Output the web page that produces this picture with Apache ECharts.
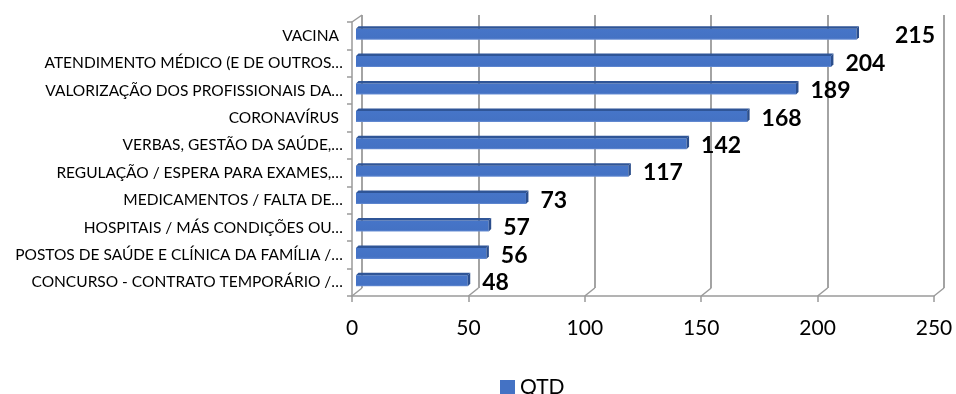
<!DOCTYPE html>
<html>
<head>
<meta charset="utf-8">
<script src="https://cdn.jsdelivr.net/npm/echarts@6/dist/echarts.min.js"></script>
<style>
  html, body { margin: 0; padding: 0; background: #fff; }
  #chart { width: 956px; height: 394px; }
</style>
</head>
<body>
<div id="chart"></div>
<script>
// Categories, top to bottom
const categories = [
  'VACINA ',
  'ATENDIMENTO MÉDICO (E DE OUTROS…',
  'VALORIZAÇÃO DOS PROFISSIONAIS DA…',
  'CORONAVÍRUS ',
  'VERBAS, GESTÃO DA SAÚDE,…',
  'REGULAÇÃO / ESPERA PARA EXAMES,…',
  'MEDICAMENTOS / FALTA DE…',
  'HOSPITAIS / MÁS CONDIÇÕES OU…',
  'POSTOS DE SAÚDE E CLÍNICA DA FAMÍLIA /…',
  'CONCURSO - CONTRATO TEMPORÁRIO /…'
];
const qtd = [215, 204, 189, 168, 142, 117, 73, 57, 56, 48];
const seriesName = 'QTD';
const xTicks = [0, 50, 100, 150, 200, 250];

const FONT = 'Lato';
const GRID_COLOR = '#9a9a9a';
const DEPTH_X = 10, DEPTH_Y = 8;   // wall/floor depth offset

const chart = echarts.init(document.getElementById('chart'), null, { renderer: 'canvas' });

const option = {
  animation: false,
  textStyle: { fontFamily: FONT },
  grid: [
    // front plane: axis labels, left wall front edge
    { left: 352, right: 22, top: 22, bottom: 98 },
    // back wall: vertical gridlines
    { left: 362, right: 12, top: 15, bottom: 106 },
    // bars plane
    { left: 356, right: 18, top: 19.3, bottom: 100.7 }
  ],
  xAxis: [
    {
      gridIndex: 0, type: 'value', min: 0, max: 250, interval: 50,
      axisLine: { show: true, lineStyle: { color: GRID_COLOR, width: 1.5 } },
      axisTick: { show: true, length: 6, lineStyle: { color: GRID_COLOR, width: 1.5 } },
      axisLabel: { fontSize: 21, color: '#000', margin: 22, fontFamily: FONT },
      splitLine: { show: false }
    },
    {
      gridIndex: 1, type: 'value', min: 0, max: 250, interval: 50,
      axisLine: { show: false }, axisTick: { show: false }, axisLabel: { show: false },
      splitLine: { show: true, lineStyle: { color: GRID_COLOR, width: 1.8 } }
    },
    {
      gridIndex: 2, type: 'value', min: 0, max: 250, interval: 50, show: false
    }
  ],
  yAxis: [
    {
      gridIndex: 0, type: 'category', data: categories, inverse: true,
      axisLine: { show: true, lineStyle: { color: GRID_COLOR, width: 1.5 } },
      axisTick: { show: true, length: 5, lineStyle: { color: GRID_COLOR, width: 1.5 } },
      axisLabel: { fontSize: 15.5, color: '#000', margin: 9, fontFamily: FONT },
      splitLine: { show: false }
    },
    {
      gridIndex: 1, type: 'category', data: categories, inverse: true, show: false
    },
    {
      gridIndex: 2, type: 'category', data: categories, inverse: true, show: false
    }
  ],
  legend: {
    data: [{ name: seriesName, icon: 'rect', itemStyle: { color: '#4472C4' } }],
    left: 500, top: 377, padding: 0,
    itemWidth: 15, itemHeight: 15, itemGap: 10,
    textStyle: { fontSize: 21, color: '#000', fontFamily: FONT }
  },
  series: [
    {
      // floor and wall depth edges, one per value tick plus the top-left wall edge
      type: 'custom',
      name: 'depthEdges',
      xAxisIndex: 0, yAxisIndex: 0,
      silent: true,
      data: xTicks.map(v => [v]),
      encode: { x: 0 },
      renderItem: function (params, api) {
        const cs = params.coordSys;
        const x = api.coord([api.value(0), 0])[0];
        const bottom = cs.y + cs.height;
        const children = [{
          type: 'line',
          shape: { x1: x, y1: bottom, x2: x + DEPTH_X, y2: bottom - DEPTH_Y },
          style: { stroke: GRID_COLOR, lineWidth: 1.5 }
        }];
        if (params.dataIndex === 0) {
          children.push({
            type: 'line',
            shape: { x1: cs.x, y1: cs.y, x2: cs.x + DEPTH_X, y2: cs.y - 7 },
            style: { stroke: GRID_COLOR, lineWidth: 1.5 }
          });
        }
        return { type: 'group', children: children };
      },
      z: 1
    },
    {
      // 3D-style horizontal bars with value labels
      type: 'custom',
      name: seriesName,
      xAxisIndex: 2, yAxisIndex: 2,
      data: qtd.map((v, i) => [v, i]),
      encode: { x: 0, y: 1 },
      itemStyle: { color: '#4472C4' },
      renderItem: function (params, api) {
        const v = api.value(0);
        const idx = api.value(1);
        const p0 = api.coord([0, idx]);
        const p1 = api.coord([v, idx]);
        const d = 2.5;
        const h = 11;
        const x0 = p0[0], x1 = p1[0];
        const top = p0[1] - h / 2 + 1.2;
        const gap = params.dataIndex === 0 ? 36 : 12;
        return {
          type: 'group',
          children: [
            {
              type: 'rect',
              shape: { x: x0, y: top, width: x1 - x0, height: h },
              style: {
                fill: new echarts.graphic.LinearGradient(0, 0, 0, 1, [
                  { offset: 0, color: '#4675c8' },
                  { offset: 0.85, color: '#4472C4' },
                  { offset: 1, color: '#6a8fd4' }
                ])
              }
            },
            {
              type: 'polygon',
              shape: { points: [[x0, top], [x0 + d, top - d], [x1 + d, top - d], [x1, top]] },
              style: { fill: '#2F5597' }
            },
            {
              type: 'polygon',
              shape: { points: [[x1, top], [x1 + d, top - d], [x1 + d, top + h - d], [x1, top + h]] },
              style: { fill: '#2B4E8C' }
            },
            {
              type: 'text',
              style: {
                text: String(v),
                x: x1 + d + gap,
                y: p0[1] + 3,
                verticalAlign: 'middle',
                align: 'left',
                fontFamily: FONT,
                fontWeight: 'bold',
                fontSize: 23,
                fill: '#000'
              }
            }
          ]
        };
      },
      z: 3
    }
  ]
};

chart.setOption(option);
</script>
</body>
</html>
